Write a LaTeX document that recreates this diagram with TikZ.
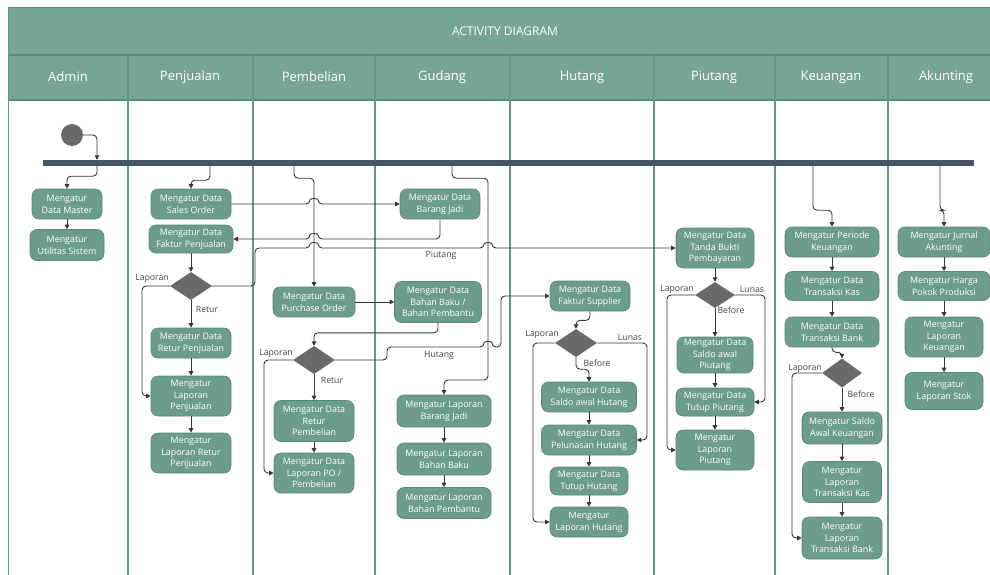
\documentclass[tikz,border=0pt]{standalone}
\usepackage{fontspec}
\setmainfont{Open Sans}
\usetikzlibrary{arrows.meta,shapes.geometric}

\definecolor{hdr}{RGB}{118,165,152}
\definecolor{hdrline}{RGB}{92,138,123}
\definecolor{lanec}{RGB}{105,150,135}
\definecolor{actfill}{RGB}{108,156,141}
\definecolor{actdraw}{RGB}{88,134,119}
\definecolor{barc}{RGB}{70,85,100}
\definecolor{decc}{RGB}{105,105,105}
\definecolor{wire}{RGB}{55,55,55}
\definecolor{lbl}{RGB}{70,70,70}

\newcommand{\hopR}[2]{-- (#1-4,#2) .. controls (#1-4,#2-6) and (#1+4,#2-6) .. (#1+4,#2)}
\newcommand{\hopL}[2]{-- (#1+4,#2) .. controls (#1+4,#2-6) and (#1-4,#2-6) .. (#1-4,#2)}

\tikzset{
  act/.style 2 args={rectangle, rounded corners=7pt, fill=actfill, draw=actdraw,
    line width=0.6pt, text=white, align=center,
    font=\fontsize{8.9}{11.8}\selectfont, minimum width=#1, minimum height=#2, inner sep=1pt},
  decision/.style={diamond, fill=decc, minimum width=42pt, minimum height=28pt, inner sep=0pt},
  arr/.style={draw=wire, line width=0.9pt, rounded corners=4pt,
    -{Triangle[length=4.5pt,width=4.5pt]}},
  lab/.style={text=lbl, font=\fontsize{8.7}{10}\selectfont, inner sep=0pt},
  lanehead/.style={text=white, font=\fontsize{13}{15}\selectfont, inner sep=0pt},
}

\begin{document}
\begin{tikzpicture}[x=1pt,y=-1pt]
\useasboundingbox (0,0) rectangle (990,575);
\fill[white] (0,0) rectangle (990,575);

% title and header
\fill[hdr] (8,8) rectangle (992,100);
\draw[hdrline, line width=1pt] (8,8) -- (992,8);
\draw[hdrline, line width=1.2pt] (8,55) -- (992,55);
\draw[hdrline, line width=1.2pt] (8,100) -- (992,100);
\draw[lanec, line width=1pt] (8,8) -- (8,575);
\foreach \x in {128,253,375,510,654,775,888}
  \draw[lanec, line width=1.3pt] (\x,55) -- (\x,575);

\node[text=white, font=\fontsize{12}{14}\selectfont, inner sep=0pt] (title) at (505,31) {ACTIVITY DIAGRAM};
\node[lanehead] (hAdmin) at (68,77) {Admin};
\node[lanehead] (hPenj) at (190,77) {Penjualan};
\node[lanehead] (hPemb) at (314,77) {Pembelian};
\node[lanehead] (hGud) at (442,77) {Gudang};
\node[lanehead] (hHut) at (582,77) {Hutang};
\node[lanehead] (hPiu) at (714,77) {Piutang};
\node[lanehead] (hKeu) at (831,77) {Keuangan};
\node[lanehead] (hAku) at (946,77) {Akunting};

% start and fork bar
\node[circle, fill=decc, minimum size=22pt, inner sep=0pt] (init) at (72,135) {};
\node[rectangle, fill=barc, minimum width=931pt, minimum height=6pt, inner sep=0pt] (bar) at (508.5,163) {};

% Admin
\node[act={70pt}{30pt}] (DM) at (67,204) {Mengatur\\Data Master};
\node[act={74pt}{31pt}] (US) at (67,245) {Mengatur\\Utilitas Sistem};

% Penjualan
\node[act={80pt}{30pt}] (SO) at (191,204) {Mengatur Data\\Sales Order};
\node[act={84pt}{28pt}] (FP) at (191,239) {Mengatur Data\\Faktur Penjualan};
\node[decision] (D1) at (191,286) {};
\node[act={80pt}{30pt}] (RP) at (191,343) {Mengatur Data\\Retur Penjualan};
\node[act={80pt}{40pt}] (LP) at (191,396) {Mengatur\\Laporan\\Penjualan};
\node[act={80pt}{40pt}] (LRP) at (191,453) {Mengatur\\Laporan Retur\\Penjualan};

% Pembelian
\node[act={82pt}{30pt}] (PO) at (314,302) {Mengatur Data\\Purchase Order};
\node[decision] (D2) at (314,360) {};
\node[act={80pt}{41pt}] (RPb) at (314,421) {Mengatur Data\\Retur\\Pembelian};
\node[act={80pt}{40pt}] (LPO) at (314,473) {Mengatur Data\\Laporan PO /\\Pembelian};

% Gudang
\node[act={80pt}{30pt}] (BJ) at (440,204) {Mengatur Data\\Barang Jadi};
\node[act={87pt}{41pt}] (BB) at (438,302) {Mengatur Data\\Bahan Baku /\\Bahan Pembantu};
\node[act={94pt}{32pt}] (LBJ) at (444,411) {Mengatur Laporan\\Barang Jadi};
\node[act={94pt}{32pt}] (LBB) at (444,459) {Mengatur Laporan\\Bahan Baku};
\node[act={94pt}{31pt}] (LBP) at (444,503) {Mengatur Laporan\\Bahan Pembantu};

% Hutang
\node[act={80pt}{30pt}] (FS) at (590,296) {Mengatur Data\\Faktur Supplier};
\node[decision] (D3) at (576,343) {};
\node[act={95pt}{30pt}] (SAH) at (589,397) {Mengatur Data\\Saldo awal Hutang};
\node[act={95pt}{30pt}] (PH) at (589,440) {Mengatur Data\\Pelunasan Hutang};
\node[act={78pt}{28pt}] (TH) at (589,481) {Mengatur Data\\Tutup Hutang};
\node[act={78pt}{30pt}] (LH) at (589,522) {Mengatur\\Laporan Hutang};

% Piutang
\node[act={78pt}{40pt}] (TB) at (715,248) {Mengatur Data\\Tanda Bukti\\Pembayaran};
\node[decision, minimum width=40pt, minimum height=26pt] (D4) at (715,295) {};
\node[act={76pt}{36pt}] (SAP) at (715,355) {Mengatur Data\\Saldo awal\\Piutang};
\node[act={78pt}{28pt}] (TP) at (715,402) {Mengatur Data\\Tutup Piutang};
\node[act={78pt}{40pt}] (LPi) at (715,450) {Mengatur\\Laporan\\Piutang};

% Keuangan
\node[act={94pt}{30pt}] (PK) at (832,242) {Mengatur Periode\\Keuangan};
\node[act={94pt}{29pt}] (TK) at (832,286) {Mengatur Data\\Transaksi Kas};
\node[act={94pt}{30pt}] (TBk) at (832,332) {Mengatur Data\\Transaksi Bank};
\node[decision, minimum width=40pt, minimum height=29pt] (D5) at (842,373) {};
\node[act={80pt}{32pt}] (SAK) at (842,428) {Mengatur Saldo\\Awal Keuangan};
\node[act={79pt}{41pt}] (LTK) at (842,482) {Mengatur\\Laporan\\Transaksi Kas};
\node[act={80pt}{42pt}] (LTB) at (842,538) {Mengatur\\Laporan\\Transaksi Bank};

% Akunting
\node[act={92pt}{30pt}] (JA) at (944,242) {Mengatur Jurnal\\Akunting};
\node[act={92pt}{29pt}] (HPP) at (944,286) {Mengatur Harga\\Pokok Produksi};
\node[act={78pt}{40pt}] (LK) at (944,337) {Mengatur\\Laporan\\Keuangan};
\node[act={78pt}{37pt}] (LS) at (944,391) {Mengatur\\Laporan Stok};

% start / fork
\draw[arr] (init.east) -| (97,0 |- bar.north);
\draw[arr] (97,0 |- bar.south) -- ++(0,10) -| (DM.north);
\draw[arr] (210,0 |- bar.south) -- ++(0,14) -| (SO.north);
\draw[arr] (294,0 |- bar.south) -- ++(0,12) -| (PO.north);
\draw[arr] (452,0 |- bar.south) -- ++(0,12) -| (488,380) -| (LBJ.north);
\draw[arr] (813,0 |- bar.south) -- ++(0,44) -| (PK.north);
\draw[arr] (940,0 |- bar.south) -- ++(0,44) -| (JA.north);

% straight vertical flows
\foreach \a/\b in {DM/US, FP/D1, D1/RP, RP/LP, LP/LRP, D2/RPb, RPb/LPO,
  LBJ/LBB, LBB/LBP, SAH/PH, PH/TH, TH/LH, TB/D4, D4/SAP, SAP/TP, TP/LPi,
  PK/TK, TK/TBk, D5/SAK, SAK/LTK, LTK/LTB, JA/HPP, HPP/LK, LK/LS}
  \draw[arr] (\a.south) -- (\b.north);

% cross-lane flows
\draw[arr] (SO.east) \hopR{314}{204} -- (BJ.west);
\draw[arr] (BJ.south) -- (440,239) \hopL{314}{239} -- (FP.east);
\draw[arr] (D1.east) -- (255,286) -- (255,248) \hopR{314}{248} \hopR{488}{248} -- (TB.west);
\draw[arr] (PO.east) -- (BB.west);
\draw[arr] (BB.south) -- ++(0,10) -| (D2.north);
\draw[arr] (D2.east) -- (387,360) -- (387,347) \hopR{488}{347} -- (501,347) -- (501,296) -- (FS.west);
\draw[arr] (FS.south) -- ++(0,9) -| (D3.north);
\draw[arr] (TBk.south) -- ++(0,5) -| (D5.north);

% decision branches
\draw[arr] (D1.west) -- (142,286) |- (LP.west);
\draw[arr] (D2.west) -- (264,360) |- (LPO.west);
\draw[arr] (D3.west) -- (533,343) |- (LH.west);
\draw[arr] (D3.east) -- (647,343) |- (PH.east);
\draw[arr] (D3.south) -- ++(0,12) -| (SAH.north);
\draw[arr] (D4.west) -- (667,295) |- (LPi.west);
\draw[arr] (D4.east) -- (765,295) |- (TP.east);
\draw[arr] (D5.west) -- (792,373) |- (LTB.west);

% labels
\node[lab] (l1) at (152,278) {Laporan};
\node[lab] (l2) at (207,309) {Retur};
\node[lab] (l3) at (441,255) {Piutang};
\node[lab] (l4) at (439,355) {Hutang};
\node[lab] (l5) at (276,353) {Laporan};
\node[lab] (l6) at (332,380) {Retur};
\node[lab] (l7) at (542,334) {Laporan};
\node[lab] (l8) at (630,337) {Lunas};
\node[lab] (l9) at (597,363) {Before};
\node[lab] (l10) at (677,289) {Laporan};
\node[lab] (l11) at (752,289) {Lunas};
\node[lab] (l12) at (731,310) {Before};
\node[lab] (l13) at (805,368) {Laporan};
\node[lab] (l14) at (861,394) {Before};
\end{tikzpicture}
\end{document}
